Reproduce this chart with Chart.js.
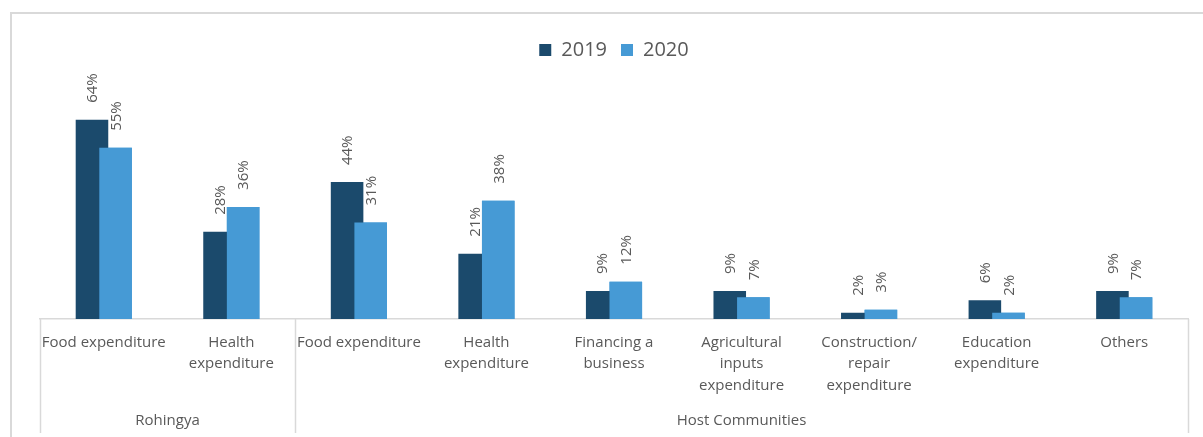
<!DOCTYPE html>
<html>
<head>
<meta charset="utf-8">
<script src="https://cdn.jsdelivr.net/npm/chart.js@4.4.0/dist/chart.umd.min.js"></script>
<style>
  html, body { margin: 0; padding: 0; background: #fff; }
  #wrap { position: relative; width: 1203px; height: 437px; overflow: hidden; }
  #frame { position: absolute; left: 10px; top: 12px; width: 1210px; height: 450px; border: 2px solid #d9d9d9; box-sizing: border-box; pointer-events: none; }
  canvas { position: absolute; left: 0; top: 0; }
</style>
</head>
<body>
<div id="wrap">
  <div id="frame"></div>
  <canvas id="c" width="1203" height="437"></canvas>
</div>
<script>
// ---- data ----
const categories = [
  'Food expenditure',
  ['Health', 'expenditure'],
  'Food expenditure',
  ['Health', 'expenditure'],
  ['Financing a', 'business'],
  ['Agricultural', 'inputs', 'expenditure'],
  ['Construction/', 'repair', 'expenditure'],
  ['Education', 'expenditure'],
  'Others'
];
const groups = ['Rohingya', 'Host Communities'];
const groupSizes = [2, 7];
const seriesNames = ['2019', '2020'];
const values2019 = [64, 28, 44, 21, 9, 9, 2, 6, 9];
const values2020 = [55, 36, 31, 38, 12, 7, 3, 2, 7];

const DARK = '#1b4a6c';
const LIGHT = '#469ad5';
const TEXT = '#595959';
const LINE = '#d9d9d9';
const FONT = "'Open Sans', 'Noto Sans', sans-serif";

const labelPlugin = {
  id: 'barLabels',
  afterDatasetsDraw(chart) {
    const ctx = chart.ctx;
    // redraw 2020 bars on top (as in the reference, the lighter bar overlaps the darker one)
    chart.getDatasetMeta(1).controller.draw();
    ctx.save();
    ctx.fillStyle = TEXT;
    ctx.font = '15px ' + FONT;
    ctx.textAlign = 'left';
    ctx.textBaseline = 'middle';
    chart.data.datasets.forEach((ds, di) => {
      const meta = chart.getDatasetMeta(di);
      meta.data.forEach((el, i) => {
        ctx.save();
        ctx.translate(el.x + 1, el.y - 17);
        ctx.rotate(-Math.PI / 2);
        ctx.fillText(ds.data[i] + '%', 0, 0);
        ctx.restore();
      });
    });
    ctx.restore();
  },
  afterDraw(chart) {
    const ctx = chart.ctx;
    const xs = chart.scales.x;
    const area = chart.chartArea;
    const n = categories.length;
    const boundary = (k) => {
      if (k <= 0) return xs.left;
      if (k >= n) return xs.right;
      return (xs.getPixelForValue(k - 1) + xs.getPixelForValue(k)) / 2;
    };
    ctx.save();
    ctx.strokeStyle = LINE;
    ctx.lineWidth = 1.5;
    let start = 0;
    const edges = [0];
    groupSizes.forEach(s => { start += s; edges.push(start); });
    edges.forEach(k => {
      const x = Math.round(boundary(k)) + 0.5;
      ctx.beginPath();
      ctx.moveTo(x, area.bottom);
      ctx.lineTo(x, area.bottom + 114);
      ctx.stroke();
    });
    ctx.fillStyle = TEXT;
    ctx.font = '15px ' + FONT;
    ctx.textAlign = 'center';
    ctx.textBaseline = 'middle';
    groups.forEach((g, gi) => {
      const cx = (boundary(edges[gi]) + boundary(edges[gi + 1])) / 2;
      ctx.fillText(g, cx, area.bottom + 102);
    });
    ctx.restore();
  }
};

new Chart(document.getElementById('c'), {
  type: 'bar',
  data: {
    labels: categories,
    datasets: [
      { label: seriesNames[0], data: values2019, backgroundColor: DARK, categoryPercentage: 0.37, barPercentage: 1.38 },
      { label: seriesNames[1], data: values2020, backgroundColor: LIGHT, categoryPercentage: 0.37, barPercentage: 1.38 }
    ]
  },
  options: {
    responsive: false,
    animation: false,
    layout: { padding: { left: 40, right: 15, top: 26, bottom: 0 } },
    plugins: {
      legend: {
        display: true,
        position: 'top',
        labels: {
          boxWidth: 12, boxHeight: 12, padding: 14,
          color: TEXT,
          font: { family: FONT, size: 20 }
        }
      },
      tooltip: { enabled: false }
    },
    scales: {
      x: {
        grid: { display: false, drawTicks: false },
        border: { display: true, color: LINE, width: 1.5 },
        ticks: {
          color: TEXT,
          font: { family: FONT, size: 15, lineHeight: 1.43 },
          padding: 13,
          maxRotation: 0, minRotation: 0,
          autoSkip: false
        },
        afterFit(scale) { scale.height = 118; }
      },
      y: {
        display: false,
        min: 0,
        max: 80
      }
    }
  },
  plugins: [labelPlugin]
});
</script>
</body>
</html>
